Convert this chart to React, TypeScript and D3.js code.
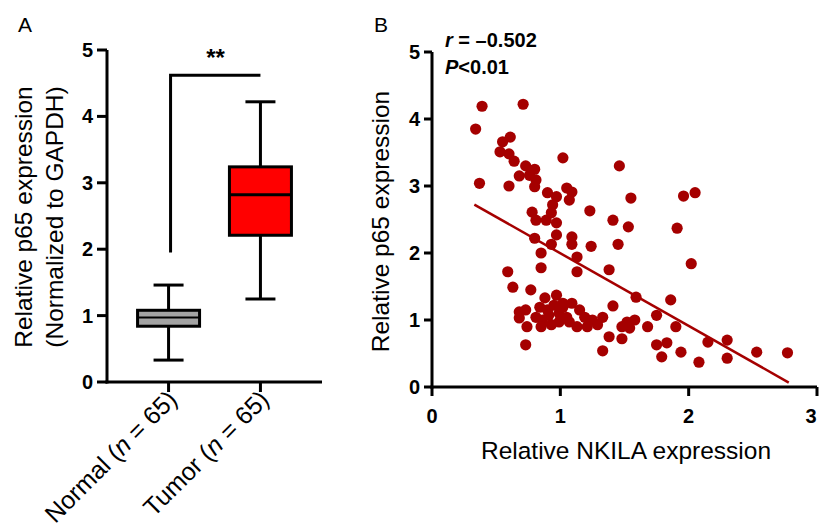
import React from 'react';
import * as d3 from 'd3';

// panel A: box plot summary (min, q1, median, q3, max)
const groups = ['Normal', 'Tumor'];
const boxMin = [0.33, 1.25];
const boxQ1 = [0.84, 2.21];
const boxMedian = [0.97, 2.82];
const boxQ3 = [1.08, 3.24];
const boxMax = [1.46, 4.22];
const boxColors = ['#a3a3a3', '#ff0000'];
const yTicksA = [0, 1, 2, 3, 4, 5];

// panel B: scatter of NKILA vs p65
const nkila = [
  0.39, 0.71, 0.34, 0.61, 0.55, 0.53, 0.6, 0.64, 0.73, 0.8, 0.76, 0.68, 0.81, 0.8, 1.02,
  0.37, 0.6, 0.9, 0.97, 1.05, 1.09, 1.07, 1.23, 1.41, 1.46, 0.78, 0.81, 0.89, 0.97, 0.94,
  0.93, 0.8, 0.97, 1.09, 1.09, 1.24, 1.45, 0.93, 0.85, 1.13, 1.13, 1.38, 0.85, 1.55, 1.53,
  1.96, 2.05, 1.91, 2.02, 0.59, 0.63, 0.77, 0.97, 0.88, 0.73, 0.84, 0.9, 0.99, 1.02, 0.81,
  0.86, 0.99, 0.74, 0.85, 0.73, 1.02, 1.09, 1.15, 1.19, 1.25, 1.33, 1.29, 1.13, 1.05, 1.52,
  1.58, 1.54, 1.48, 1.68, 1.75, 1.38, 1.48, 1.33, 1.75, 1.79, 1.59, 1.41, 1.86, 1.9, 1.83,
  1.94, 2.15, 2.3, 2.3, 2.08, 2.53, 2.77, 0.91, 0.95, 0.68, 0.68, 1.21, 1.07, 0.93,
];
const p65 = [
  4.19, 4.22, 3.85, 3.73, 3.66, 3.51, 3.48, 3.37, 3.3, 3.25, 3.16, 3.15, 3.09, 2.99, 3.42,
  3.04, 3.0, 2.9, 2.84, 2.97, 2.91, 2.79, 2.63, 2.49, 3.3, 2.61, 2.49, 2.49, 2.45, 2.72,
  2.6, 2.22, 2.27, 2.24, 2.13, 2.1, 2.13, 2.13, 2.0, 1.94, 1.72, 1.75, 1.78, 2.82, 2.39,
  2.85, 2.9, 2.37, 1.84, 1.72, 1.49, 1.45, 1.37, 1.33, 1.15, 1.19, 1.15, 1.1, 1.19, 1.04,
  1.0, 0.97, 0.9, 0.9, 0.63, 1.25, 1.25, 1.15, 1.04, 1.0, 1.04, 0.93, 0.9, 1.04, 0.97,
  1.0, 0.88, 0.9, 0.9, 1.07, 0.75, 0.72, 0.54, 0.63, 0.45, 1.34, 1.21, 1.3, 0.9, 0.66,
  0.52, 0.67, 0.7, 0.43, 0.37, 0.52, 0.51, 1.07, 1.22, 1.12, 1.03, 0.9, 0.97, 0.93,
];
const fitSlope = -1.084;
const fitIntercept = 3.08;
const fitRange = [0.33, 2.78];
const xTicksB = [0, 1, 2, 3];
const yTicksB = [0, 1, 2, 3, 4, 5];

const font = '"Liberation Sans", Arial, sans-serif';
const dotColor = '#a50000';

const App = () => {
  // panel A scales
  const yA = d3.scaleLinear().domain([0, 5]).range([382, 50]);
  const xA = d3.scalePoint<string>().domain(groups).range([107, 322]).padding(0.67);
  const boxW = 62;
  const capW = 30;

  // panel B scales
  const xB = d3.scaleLinear().domain([0, 3]).range([432, 817]);
  const yB = d3.scaleLinear().domain([0, 5]).range([387, 52]);

  const fitLine = d3.line<number>()
    .x(d => xB(d))
    .y(d => yB(fitIntercept + fitSlope * d));

  return (
    <svg width={819} height={529} style={{ position: 'absolute', left: 0, top: 0, background: '#fff' }}
      fontFamily={font}>
      {/* ---------- panel A ---------- */}
      <text x={18} y={32} fontSize={21}>A</text>
      <g transform="translate(32,217) rotate(-90)" fontSize={24.5} textAnchor="middle">
        <text x={0} y={0}>Relative p65 expression</text>
        <text x={0} y={31}>(Normalized to GAPDH)</text>
      </g>

      {/* significance bracket */}
      <path d={`M${xA('Normal')! + 2},${yA(1.95)} V${yA(4.62)} H${xA('Tumor')}`}
        fill="none" stroke="#000" strokeWidth={3} />
      <text x={(xA('Normal')! + xA('Tumor')!) / 2 + 1} y={66} fontSize={24} fontWeight="bold"
        textAnchor="middle">**</text>

      {groups.map((g, i) => {
        const cx = xA(g)!;
        return (
          <g key={g} stroke="#000" strokeWidth={3}>
            <line x1={cx} x2={cx} y1={yA(boxMax[i])} y2={yA(boxQ3[i])} />
            <line x1={cx} x2={cx} y1={yA(boxQ1[i])} y2={yA(boxMin[i])} />
            <line x1={cx - capW / 2} x2={cx + capW / 2} y1={yA(boxMax[i])} y2={yA(boxMax[i])} />
            <line x1={cx - capW / 2} x2={cx + capW / 2} y1={yA(boxMin[i])} y2={yA(boxMin[i])} />
            <rect x={cx - boxW / 2} width={boxW} y={yA(boxQ3[i])}
              height={yA(boxQ1[i]) - yA(boxQ3[i])} fill={boxColors[i]} />
            <line x1={cx - boxW / 2} x2={cx + boxW / 2} y1={yA(boxMedian[i])} y2={yA(boxMedian[i])}
              strokeWidth={i === 0 ? 2 : 3} />
          </g>
        );
      })}

      {/* axes A */}
      <line x1={107} x2={107} y1={yA(5)} y2={yA(0) + 1.5} stroke="#000" strokeWidth={3} />
      <line x1={105.5} x2={322} y1={yA(0)} y2={yA(0)} stroke="#000" strokeWidth={3} />
      {yTicksA.map(t => (
        <g key={t}>
          <line x1={97} x2={107} y1={yA(t)} y2={yA(t)} stroke="#000" strokeWidth={3} />
          <text x={93} y={yA(t) + 7} fontSize={20} fontWeight="bold" textAnchor="end">{t}</text>
        </g>
      ))}
      {groups.map(g => (
        <g key={g}>
          <line x1={xA(g)} x2={xA(g)} y1={yA(0)} y2={yA(0) + 10} stroke="#000" strokeWidth={3} />
          <text transform={`translate(${xA(g)! + 10},${yA(0) + 19}) rotate(-45)`} fontSize={25}
            textAnchor="end">
            {g} (<tspan fontStyle="italic">n</tspan> = 65)
          </text>
        </g>
      ))}

      {/* ---------- panel B ---------- */}
      <text x={374} y={32} fontSize={21}>B</text>
      <text transform={`translate(389,${(yB(0) + yB(5)) / 2 + 2}) rotate(-90)`} fontSize={24.5}
        textAnchor="middle">Relative p65 expression</text>
      <text x={445} y={47} fontSize={20} fontWeight="bold">
        <tspan fontStyle="italic">r</tspan> = –0.502
      </text>
      <text x={445} y={74} fontSize={20} fontWeight="bold">
        <tspan fontStyle="italic">P</tspan>&lt;0.01
      </text>

      {nkila.map((v, i) => (
        <circle key={i} cx={xB(v)} cy={yB(p65[i])} r={5.6} fill={dotColor} />
      ))}
      <path d={fitLine(fitRange) ?? ''} fill="none" stroke={dotColor} strokeWidth={2.5} />

      {/* axes B */}
      <line x1={432} x2={432} y1={yB(5)} y2={yB(0) + 1.5} stroke="#000" strokeWidth={3} />
      <line x1={430.5} x2={817} y1={yB(0)} y2={yB(0)} stroke="#000" strokeWidth={3} />
      {yTicksB.map(t => (
        <g key={t}>
          <line x1={424} x2={432} y1={yB(t)} y2={yB(t)} stroke="#000" strokeWidth={3} />
          <text x={420} y={yB(t) + 7} fontSize={20} fontWeight="bold" textAnchor="end">{t}</text>
        </g>
      ))}
      {xTicksB.map(t => (
        <g key={t}>
          <line x1={xB(t)} x2={xB(t)} y1={yB(0)} y2={yB(0) + 9} stroke="#000" strokeWidth={3} />
          <text x={Math.min(xB(t), 811)} y={423} fontSize={20} fontWeight="bold"
            textAnchor="middle">{t}</text>
        </g>
      ))}
      <text x={626} y={459} fontSize={24.5} textAnchor="middle">Relative NKILA expression</text>
    </svg>
  );
};

export default App;
